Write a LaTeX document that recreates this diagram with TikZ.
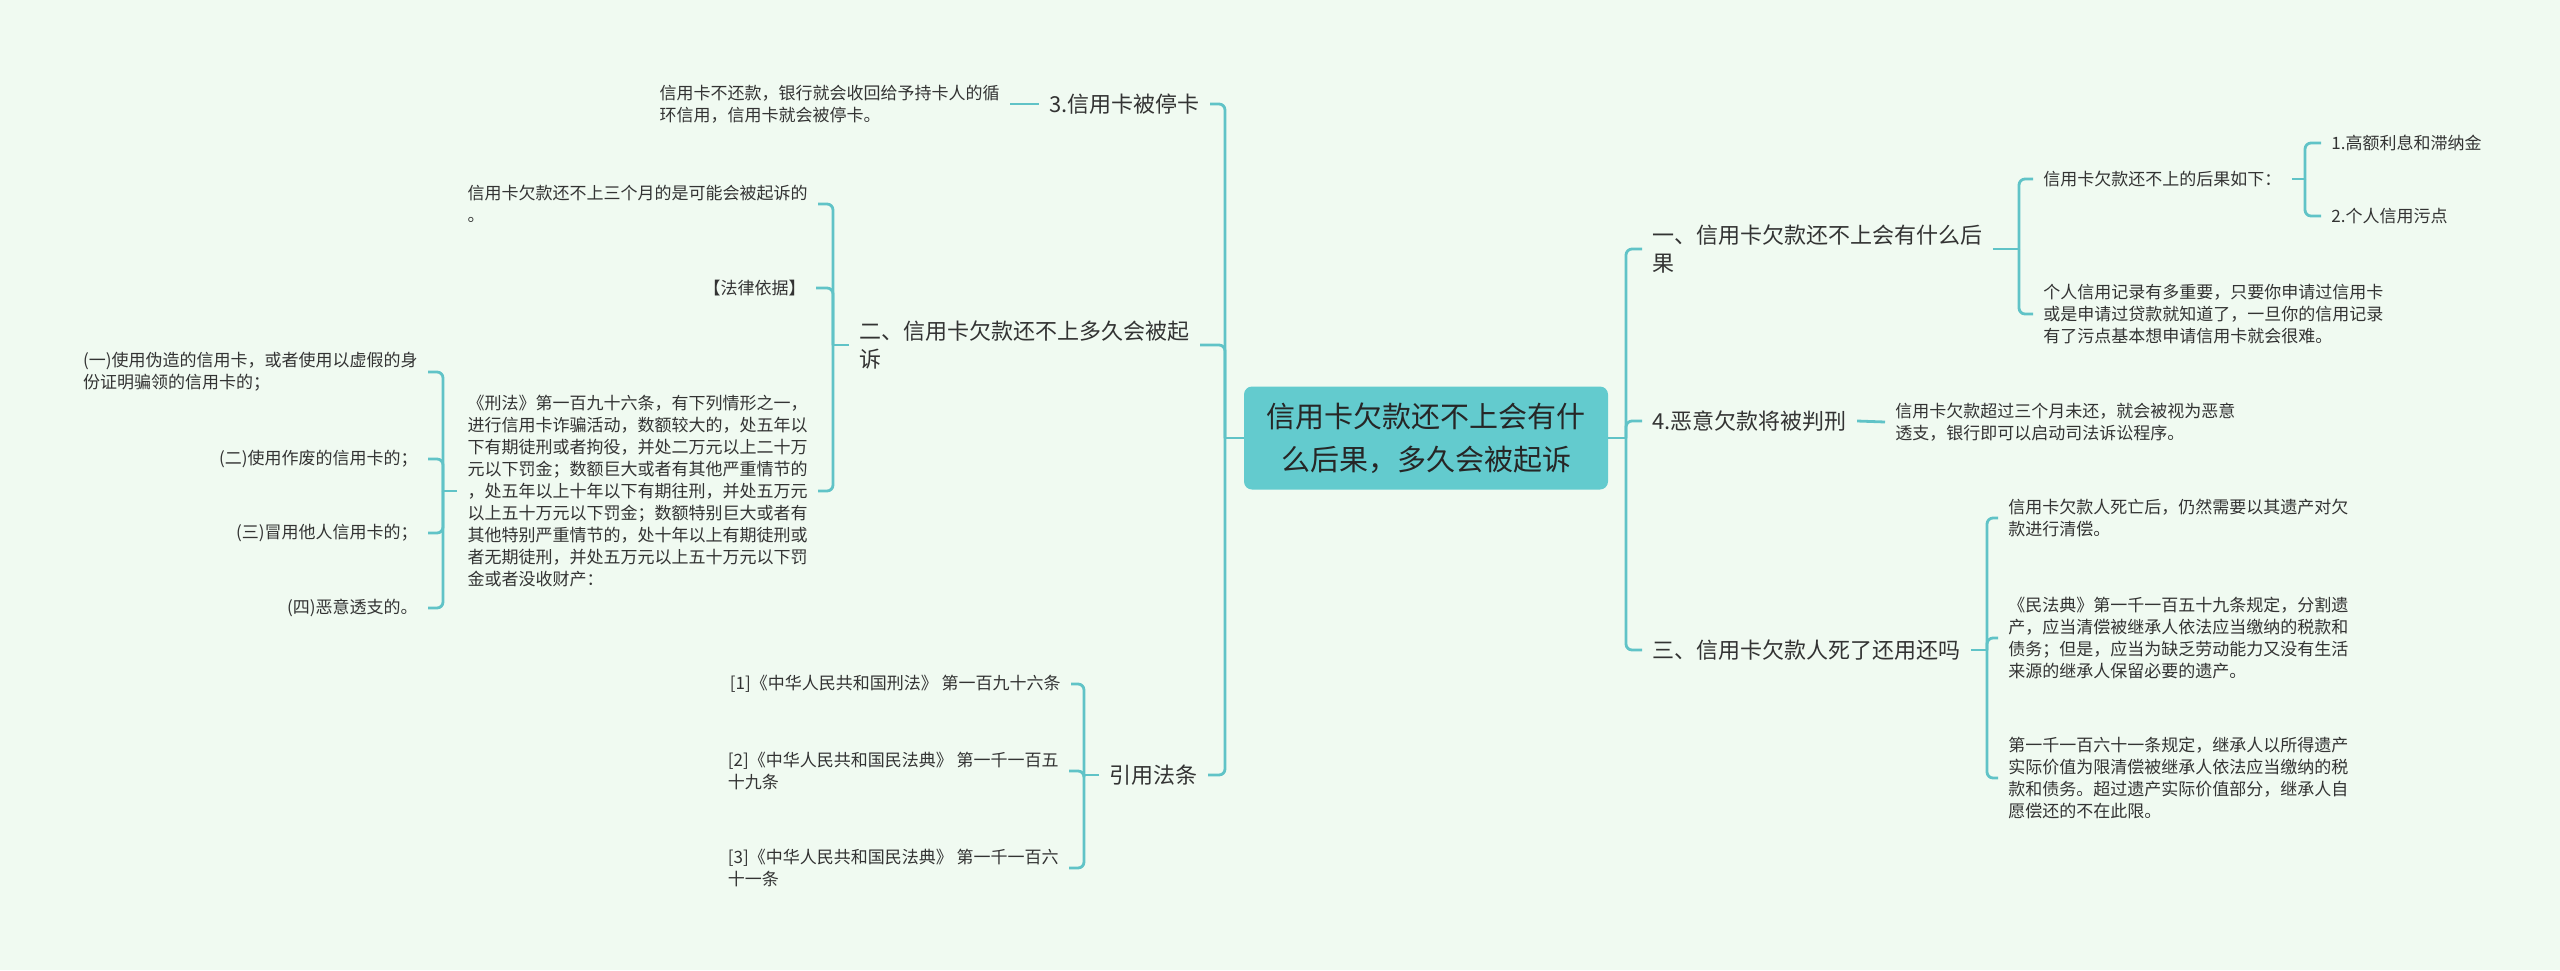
\documentclass[tikz,border=0pt]{standalone}
\usepackage{fontspec}
\setmainfont{Noto Sans CJK SC}
\usepackage{tikz}
\definecolor{mapbg}{RGB}{240,250,241}
\definecolor{mapteal}{RGB}{99,203,206}
\definecolor{mapline}{RGB}{96,195,199}
\definecolor{maptext}{RGB}{51,51,51}

\begin{document}
\begin{tikzpicture}[
        x=0.5pt, y=-0.5pt,
        rootbox/.style={fill=mapteal, rounded corners=4pt, minimum width=182pt,
                        minimum height=51.5pt, align=center,
                        font=\fontsize{14.5}{21.5}\selectfont, text=black!85},
        topic/.style={inner xsep=5pt, inner ysep=2pt, align=left,
                      font=\fontsize{11}{14}\selectfont, text=maptext},
        leaf/.style={inner xsep=5pt, inner ysep=2pt, align=left,
                     font=\fontsize{8.5}{11}\selectfont, text=maptext},
        link/.style={draw=mapline, line width=1.4pt, rounded corners=3pt},
    ]
        \path[use as bounding box, fill=mapbg] (0,0) rectangle (2560,970);

        % Nodes
        \node[rootbox] (root) at (1426,438)
              {信用卡欠款还不上会有什\\么后果，多久会被起诉};

        \node[topic, anchor=east] (stop) at (1210,104) {3.信用卡被停卡};
        \node[topic, anchor=east] (sue) at (1200,345)
              {二、信用卡欠款还不上多久会被起\\诉};
        \node[topic, anchor=east] (laws) at (1208,775) {引用法条};

        \node[leaf, anchor=east] (stopnote) at (1010,104)
              {信用卡不还款，银行就会收回给予持卡人的循\\环信用，信用卡就会被停卡。};
        \node[leaf, anchor=east] (threemonth) at (818,204)
              {信用卡欠款还不上三个月的是可能会被起诉的\\。};
        \node[leaf, anchor=east] (basis) at (816,288) {【法律依据】};
        \node[leaf, anchor=east] (xingfa) at (818,491)
              {《刑法》第一百九十六条，有下列情形之一，\\
               进行信用卡诈骗活动，数额较大的，处五年以\\
               下有期徒刑或者拘役，并处二万元以上二十万\\
               元以下罚金；数额巨大或者有其他严重情节的\\
               ，处五年以上十年以下有期往刑，并处五万元\\
               以上五十万元以下罚金；数额特别巨大或者有\\
               其他特别严重情节的，处十年以上有期徒刑或\\
               者无期徒刑，并处五万元以上五十万元以下罚\\
               金或者没收财产：};
        \node[leaf, anchor=east] (caseone) at (428,372)
              {(一)使用伪造的信用卡，或者使用以虚假的身\\份证明骗领的信用卡的；};
        \node[leaf, anchor=east] (casetwo) at (428,459) {(二)使用作废的信用卡的；};
        \node[leaf, anchor=east] (casethree) at (428,533) {(三)冒用他人信用卡的；};
        \node[leaf, anchor=east] (casefour) at (428,608) {(四)恶意透支的。};

        \node[leaf, anchor=east] (refone) at (1071,684)
              {[1]《中华人民共和国刑法》 第一百九十六条};
        \node[leaf, anchor=east] (reftwo) at (1069,771)
              {[2]《中华人民共和国民法典》 第一千一百五\\十九条};
        \node[leaf, anchor=east] (refthree) at (1069,868)
              {[3]《中华人民共和国民法典》 第一千一百六\\十一条};

        \node[topic, anchor=west] (result) at (1642,249)
              {一、信用卡欠款还不上会有什么后\\果};
        \node[topic, anchor=west] (malice) at (1642,421) {4.恶意欠款将被判刑};
        \node[topic, anchor=west] (death) at (1642,650) {三、信用卡欠款人死了还用还吗};

        \node[leaf, anchor=west] (resultlist) at (2033,179) {信用卡欠款还不上的后果如下：};
        \node[leaf, anchor=west] (record) at (2033,314)
              {个人信用记录有多重要，只要你申请过信用卡\\
               或是申请过贷款就知道了，一旦你的信用记录\\
               有了污点基本想申请信用卡就会很难。};
        \node[leaf, anchor=west] (interest) at (2321,143) {1.高额利息和滞纳金};
        \node[leaf, anchor=west] (stain) at (2321,216) {2.个人信用污点};

        \node[leaf, anchor=west] (malicenote) at (1885,422)
              {信用卡欠款超过三个月未还，就会被视为恶意\\透支，银行即可以启动司法诉讼程序。};

        \node[leaf, anchor=west] (estate) at (1998,518)
              {信用卡欠款人死亡后，仍然需要以其遗产对欠\\款进行清偿。};
        \node[leaf, anchor=west] (civil) at (1998,638)
              {《民法典》第一千一百五十九条规定，分割遗\\
               产，应当清偿被继承人依法应当缴纳的税款和\\
               债务；但是，应当为缺乏劳动能力又没有生活\\
               来源的继承人保留必要的遗产。};
        \node[leaf, anchor=west] (succession) at (1998,778)
              {第一千一百六十一条规定，继承人以所得遗产\\
               实际价值为限清偿被继承人依法应当缴纳的税\\
               款和债务。超过遗产实际价值部分，继承人自\\
               愿偿还的不在此限。};

        % Junctions
        \coordinate (jl) at (1225,438);
        \coordinate (jr) at (1626,438);
        \coordinate (jsue) at (833,345);
        \coordinate (jxing) at (443,491);
        \coordinate (jlaws) at (1084,775);
        \coordinate (jres) at (2019,249);
        \coordinate (jlist) at (2305,179);
        \coordinate (jdeath) at (1987,650);

        % Connectors
        \draw[link] (root.west) -- (jl);
        \foreach \n in {stop,sue,laws}
            \draw[link] (jl) |- (\n.east);
        \draw[link] (stop.west) -- (stopnote.east);

        \draw[link] (sue.west) -- (jsue);
        \foreach \n in {threemonth,basis,xingfa}
            \draw[link] (jsue) |- (\n.east);
        \draw[link] (xingfa.west) -- (jxing);
        \foreach \n in {caseone,casetwo,casethree,casefour}
            \draw[link] (jxing) |- (\n.east);

        \draw[link] (laws.west) -- (jlaws);
        \foreach \n in {refone,reftwo,refthree}
            \draw[link] (jlaws) |- (\n.east);

        \draw[link] (root.east) -- (jr);
        \foreach \n in {result,malice,death}
            \draw[link] (jr) |- (\n.west);
        \draw[link] (result.east) -- (jres);
        \foreach \n in {resultlist,record}
            \draw[link] (jres) |- (\n.west);
        \draw[link] (resultlist.east) -- (jlist);
        \foreach \n in {interest,stain}
            \draw[link] (jlist) |- (\n.west);
        \draw[link] (malice.east) -- (malicenote.west);
        \draw[link] (death.east) -- (jdeath);
        \foreach \n in {estate,civil,succession}
            \draw[link] (jdeath) |- (\n.west);
    \end{tikzpicture}
\end{document}
